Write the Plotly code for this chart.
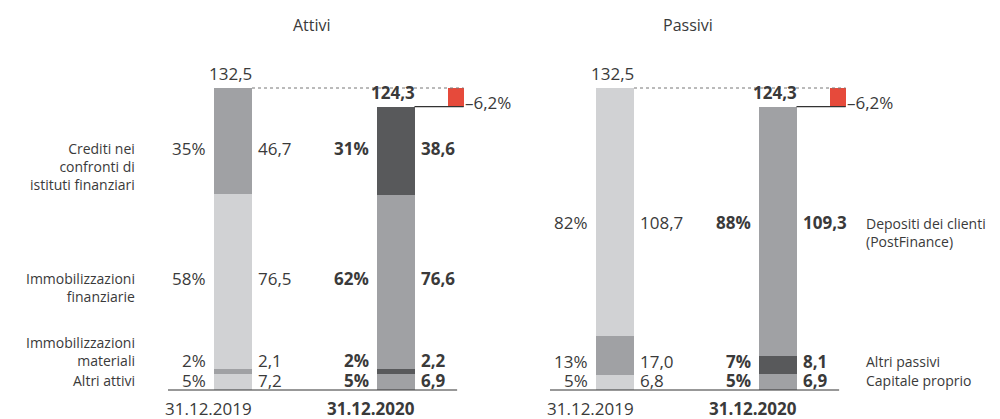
import plotly.graph_objects as go
import numpy as np

# ---------------- data ----------------
dates = ["31.12.2019", "31.12.2020"]

attivi_cats = ["Altri attivi", "Immobilizzazioni<br>materiali", "Immobilizzazioni<br>finanziarie",
               "Crediti nei<br>confronti di<br>istituti finanziari"]
attivi_2019 = [7.2, 2.1, 76.5, 46.7]
attivi_2020 = [6.9, 2.2, 76.6, 38.6]
attivi_pct_2019 = ["5%", "2%", "58%", "35%"]
attivi_pct_2020 = ["5%", "2%", "62%", "31%"]
attivi_val_2019 = ["7,2", "2,1", "76,5", "46,7"]
attivi_val_2020 = ["6,9", "2,2", "76,6", "38,6"]

passivi_cats = ["Capitale proprio", "Altri passivi", "Depositi dei clienti<br>(PostFinance)"]
passivi_2019 = [6.8, 17.0, 108.7]
passivi_2020 = [6.9, 8.1, 109.3]
passivi_pct_2019 = ["5%", "13%", "82%"]
passivi_pct_2020 = ["5%", "7%", "88%"]
passivi_val_2019 = ["6,8", "17,0", "108,7"]
passivi_val_2020 = ["6,9", "8,1", "109,3"]

totals = [132.5, 124.3]
total_labels = ["132,5", "124,3"]
change_label = "–6,2%"

# ---------------- style ----------------
LIGHT = "#d1d2d4"
MID = "#a0a1a4"
DARK = "#58595b"
RED = "#e64a3b"
TXT = "#3a3a3a"
FONT = "Open Sans"

attivi_colors_2019 = [LIGHT, MID, LIGHT, MID]
attivi_colors_2020 = [MID, DARK, MID, DARK]
passivi_colors_2019 = [LIGHT, MID, LIGHT]
passivi_colors_2020 = [MID, DARK, MID]

W, H = 1000, 419
PX_PER_X = 162.5
BAR_W = 38 / PX_PER_X
RED_X = 1.37
RED_W = 16 / PX_PER_X
BASE_PY = 390
PX_PER_Y = 302 / 132.5
VAL_SIZE = 17
LAB_SIZE = 14

def paper_y(py):
    return 1 - py / H

fig = go.Figure()

panels = [
    dict(ax="x", ay="y", cats=attivi_cats, v=[attivi_2019, attivi_2020],
         pct=[attivi_pct_2019, attivi_pct_2020], val=[attivi_val_2019, attivi_val_2020],
         col=[attivi_colors_2019, attivi_colors_2020],
         rows=[380, 360, 278, 148], label_tops=[380, 342, 278, 148], label_side="left"),
    dict(ax="x2", ay="y2", cats=passivi_cats, v=[passivi_2019, passivi_2020],
         pct=[passivi_pct_2019, passivi_pct_2020], val=[passivi_val_2019, passivi_val_2020],
         col=[passivi_colors_2019, passivi_colors_2020],
         rows=[380, 361, 223], label_tops=[380, 361, 223], label_side="right"),
]

annotations = []
shapes = []

for p in panels:
    xr = p["ax"]
    yr = p["ay"]
    for di in range(2):
        vals = np.array(p["v"][di])
        bases = np.concatenate([[0], np.cumsum(vals)[:-1]])
        fig.add_trace(go.Bar(
            x=[di] * len(vals), y=vals, base=bases, width=BAR_W,
            marker=dict(color=p["col"][di], line=dict(width=0)),
            xaxis=xr, yaxis=yr, showlegend=False, hoverinfo="skip"))
        bold = di == 1
        for k in range(len(vals)):
            py = p["rows"][k]
            pct = p["pct"][di][k]
            vl = p["val"][di][k]
            if bold:
                pct = f"<b>{pct}</b>"
                vl = f"<b>{vl}</b>"
            annotations.append(dict(x=di - BAR_W / 2, y=paper_y(py), xref=xr, yref="paper",
                                    text=pct, showarrow=False, xanchor="right", yanchor="middle",
                                    xshift=-7, borderpad=0,
                                    font=dict(size=VAL_SIZE, color=TXT, family=FONT)))
            annotations.append(dict(x=di + BAR_W / 2, y=paper_y(py), xref=xr, yref="paper",
                                    text=vl, showarrow=False, xanchor="left", yanchor="middle",
                                    xshift=5, borderpad=0,
                                    font=dict(size=VAL_SIZE, color=TXT, family=FONT)))
        # date label
        dtxt = f"<b>{dates[di]}</b>" if bold else dates[di]
        annotations.append(dict(x=di + BAR_W / 2, y=paper_y(408), xref=xr, yref="paper",
                                text=dtxt, showarrow=False, xanchor="right", yanchor="middle",
                                xshift=2, font=dict(size=VAL_SIZE, color=TXT, family=FONT)))
        # total label
        ttxt = f"<b>{total_labels[di]}</b>" if bold else total_labels[di]
        annotations.append(dict(x=di + BAR_W / 2, y=totals[di], xref=xr, yref=yr,
                                text=ttxt, showarrow=False, xanchor="right", yanchor="bottom",
                                xshift=2, yshift=1, font=dict(size=VAL_SIZE, color=TXT, family=FONT)))
    # red change square
    fig.add_trace(go.Bar(x=[RED_X], y=[totals[0] - totals[1]], base=[totals[1]], width=RED_W,
                         marker=dict(color=RED, line=dict(width=0)),
                         xaxis=xr, yaxis=yr, showlegend=False, hoverinfo="skip"))
    annotations.append(dict(x=RED_X + RED_W / 2, y=totals[1], xref=xr, yref=yr,
                            text=change_label, showarrow=False, xanchor="left", yanchor="middle",
                            xshift=-1, yshift=4, font=dict(size=17, color=TXT, family=FONT)))
    # dotted line from previous total
    shapes.append(dict(type="line", xref=xr, yref=yr, x0=BAR_W / 2, x1=RED_X + RED_W / 2,
                       y0=totals[0], y1=totals[0], line=dict(color="#777777", width=1, dash="dot")))
    # solid line from current total
    shapes.append(dict(type="line", xref=xr, yref=yr, x0=1 + BAR_W / 2, x1=RED_X + RED_W / 2,
                       y0=totals[1], y1=totals[1], line=dict(color="#333333", width=1.3)))
    # baseline
    shapes.append(dict(type="line", xref=xr, yref=yr, x0=-0.40, x1=RED_X + RED_W / 2 - 0.04,
                       y0=0, y1=0, line=dict(color="#333333", width=1.2)))
    # category labels (first line aligned with its row)
    for k, cat in enumerate(p["cats"]):
        py = p["label_tops"][k] - 11
        if p["label_side"] == "left":
            annotations.append(dict(x=-0.593, y=paper_y(py), xref=xr, yref="paper", text=cat,
                                    showarrow=False, xanchor="right", yanchor="top", align="right",
                                    font=dict(size=LAB_SIZE, color=TXT, family=FONT)))
        else:
            annotations.append(dict(x=1.53, y=paper_y(py), xref=xr, yref="paper", text=cat,
                                    showarrow=False, xanchor="left", yanchor="top", align="left",
                                    font=dict(size=LAB_SIZE, color=TXT, family=FONT)))

# titles
annotations.append(dict(x=312 / W, y=paper_y(25), xref="paper", yref="paper", text="Attivi",
                        showarrow=False, xanchor="center", yanchor="middle",
                        font=dict(size=16, color=TXT, family=FONT)))
annotations.append(dict(x=688 / W, y=paper_y(25), xref="paper", yref="paper", text="Passivi",
                        showarrow=False, xanchor="center", yanchor="middle",
                        font=dict(size=16, color=TXT, family=FONT)))

y_top = BASE_PY / PX_PER_Y
y_bot = -(H - BASE_PY) / PX_PER_Y

axis_common = dict(visible=False, showgrid=False, zeroline=False, fixedrange=True)
fig.update_layout(
    width=W, height=H,
    margin=dict(l=0, r=0, t=0, b=0),
    paper_bgcolor="white", plot_bgcolor="white",
    barmode="overlay", bargap=0,
    xaxis=dict(domain=[0, 0.5], range=[-233 / PX_PER_X, (500 - 233) / PX_PER_X], **axis_common),
    xaxis2=dict(domain=[0.5, 1], range=[(500 - 615) / PX_PER_X, (1000 - 615) / PX_PER_X], **axis_common),
    yaxis=dict(domain=[0, 1], range=[y_bot, y_top], anchor="x", **axis_common),
    yaxis2=dict(domain=[0, 1], range=[y_bot, y_top], anchor="x2", **axis_common),
    annotations=annotations,
    shapes=shapes,
    font=dict(family=FONT, color=TXT),
)

fig.write_html(
    "out.html",
    config=dict(displayModeBar=False),
    post_script="document.body.style.margin='0';document.body.style.overflow='hidden';"
                "document.documentElement.style.overflow='hidden';",
)
